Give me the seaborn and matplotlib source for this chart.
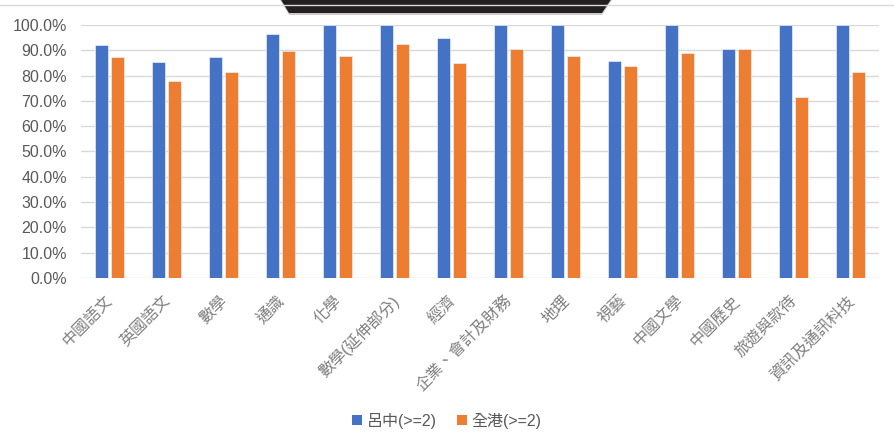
import matplotlib
matplotlib.use("Agg")
import matplotlib.pyplot as plt
from matplotlib.patches import Patch, Polygon
from matplotlib.ticker import FuncFormatter, MultipleLocator
from matplotlib.transforms import ScaledTranslation
import seaborn as sns
import pandas as pd

subjects = ["中國語文", "英國語文", "數學", "通識", "化學", "數學(延伸部分)", "經濟",
            "企業、會計及財務", "地理", "視藝", "中國文學", "中國歷史", "旅遊與款待", "資訊及通訊科技"]
school = [0.922, 0.852, 0.873, 0.965, 1.0, 1.0, 0.947, 1.0, 1.0, 0.856, 1.0, 0.907, 1.0, 1.0]
hk = [0.873, 0.780, 0.816, 0.896, 0.877, 0.926, 0.850, 0.904, 0.877, 0.838, 0.890, 0.904, 0.714, 0.816]
series_names = ["呂中(>=2)", "全港(>=2)"]
colors = ["#4472C4", "#ED7D31"]

df = pd.DataFrame({
    "subject": subjects * 2,
    "value": school + hk,
    "series": [series_names[0]] * len(subjects) + [series_names[1]] * len(subjects),
})

sns.set_theme(style="white")
plt.rcParams["font.family"] = ["Liberation Sans", "Noto Sans CJK TC", "DejaVu Sans"]

fig = plt.figure(figsize=(8.94, 4.46), dpi=100)
ax = fig.add_axes([0.0906, 0.3767, 0.8926, 0.5673])

sns.barplot(data=df, x="subject", y="value", hue="series", palette=colors,
            width=0.577, gap=0.24, ax=ax, legend=False, saturation=1,
            edgecolor="#e8eef8", linewidth=0.5)

ax.set_ylim(0, 1.0)
ax.set_xlim(-0.5, len(subjects) - 0.5)
ax.yaxis.set_major_locator(MultipleLocator(0.1))
ax.yaxis.set_major_formatter(FuncFormatter(lambda v, p: f"{v*100:.1f}%"))
ax.grid(axis="y", color="#d9d9d9", linewidth=1)
ax.set_axisbelow(True)
for s in ax.spines.values():
    s.set_visible(False)
ax.set_xlabel("")
ax.set_ylabel("")
ax.tick_params(axis="y", labelsize=11.5, colors="#595959", length=0, pad=10)
ax.tick_params(axis="x", labelsize=11.5, colors="#7f7f7f", length=0, pad=10)
offset = ScaledTranslation(-4 / 100, -1 / 100, fig.dpi_scale_trans)
for lbl in ax.get_xticklabels():
    lbl.set_rotation(45)
    lbl.set_ha("right")
    lbl.set_rotation_mode("anchor")
    lbl.set_transform(lbl.get_transform() + offset)

# top border line
fig.add_artist(plt.Line2D([0, 1], [0.988, 0.988], color="#d9d9d9", linewidth=1,
                          transform=fig.transFigure))
# dark title banner (cut off at top)
W, H = 894, 446
pts = [(280, -2), (612, -2), (602, 13), (289, 13)]
shadow = Polygon([(x / W, 1 - (y + 2) / H) for x, y in pts], closed=True,
                 transform=fig.transFigure, facecolor="#999999", alpha=0.5, edgecolor="none")
banner = Polygon([(x / W, 1 - y / H) for x, y in pts], closed=True,
                 transform=fig.transFigure, facecolor="#231f20", edgecolor="none")
fig.add_artist(shadow)
fig.add_artist(banner)

handles = [Patch(facecolor=c, edgecolor="none") for c in colors]
fig.legend(handles, series_names, loc="center", bbox_to_anchor=(0.5, 1 - 421 / H),
           ncol=2, frameon=False, fontsize=11.5, labelcolor="#595959",
           handlelength=0.6, handleheight=0.6, handletextpad=0.3, columnspacing=1.3)

fig.savefig("out.png", dpi=100)
